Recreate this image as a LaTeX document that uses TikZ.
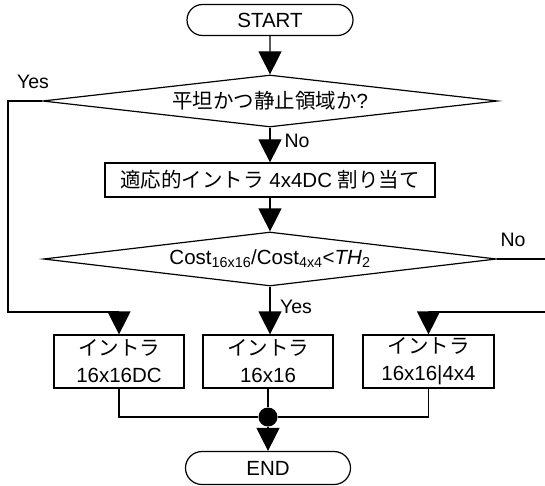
\documentclass[tikz,border=0pt]{standalone}
\usepackage{fontspec}
\setmainfont{Liberation Sans}
\newfontfamily\jp{Noto Sans CJK JP}
\usetikzlibrary{arrows.meta,shapes.geometric,shapes.misc}
\begin{document}
\begin{tikzpicture}[x=1pt,y=-1pt,
  line width=1.2pt,
  every node/.style={font=\fontsize{20.5}{27}\selectfont, inner sep=0pt},
  terminal/.style={draw, rounded rectangle, minimum width=166pt, minimum height=31pt},
  decision/.style={draw, diamond, aspect=8},
  proc/.style={draw, rectangle, align=center},
  arr/.style={-{Triangle[length=23pt,width=23pt]}},
  lbl/.style={font=\fontsize{19.5}{22}\selectfont}]
\useasboundingbox (0,0) rectangle (545,486);

% main column
\node[terminal] (start) at (270,20) {START};
\node[decision, minimum width=455pt, minimum height=52pt] (d1) at (270,101)
  {{\jp 平坦かつ静止領域か}?};
\node[proc, minimum width=330pt, minimum height=34pt] (b1) at (270,180)
  {{\jp 適応的イントラ} 4x4DC {\jp 割り当て}};
\node[decision, minimum width=453pt, minimum height=54pt] (d2) at (270,259)
  {Cost\textsubscript{16x16}/Cost\textsubscript{4x4}<\textit{TH}\textsubscript{2}};

% result boxes
\node[proc, minimum width=130pt, minimum height=53pt] (ra) at (119,361.5)
  {{\jp イントラ}\\16x16DC};
\node[proc, minimum width=130pt, minimum height=53pt] (rb) at (268,361.5)
  {{\jp イントラ}\\16x16};
\node[proc, minimum width=131pt, minimum height=53pt] (rc) at (428.5,361.5)
  {{\jp イントラ}\\16x16|4x4};

\node[circle, fill, minimum size=19pt] (dot) at (268,417) {};
\node[terminal, minimum width=165pt, minimum height=33pt] (end) at (268,468) {END};

% connectors
\draw[arr] (start) -- (d1);
\draw[arr] (d1) -- (b1);
\draw[arr] (b1) -- (d2);
\draw[arr] (d2.south) -- (d2.south |- rb.north);

\coordinate (yl) at (8,312);
\draw[arr] (d1.west) -| (yl) -- (yl -| ra.north) -- (ra.north);

\coordinate (nr1) at (545,259);
\coordinate (nr2) at (545,312);
\draw (d2.east) -- (nr1);
\draw[arr] (nr2) -- (nr2 -| rc.north) -- (rc.north);

\draw (ra.south) |- (dot);
\draw (rc.south) |- (dot);
\draw (rb.south |- ra.south) -- (dot);
\draw[arr] (dot) -- (end);

% branch labels
\node[lbl] (ly1) at (33,82) {Yes};
\node[lbl] (ln1) at (297,141) {No};
\node[lbl] (ln2) at (513,240) {No};
\node[lbl] (ly2) at (296,307) {Yes};
\end{tikzpicture}
\end{document}
